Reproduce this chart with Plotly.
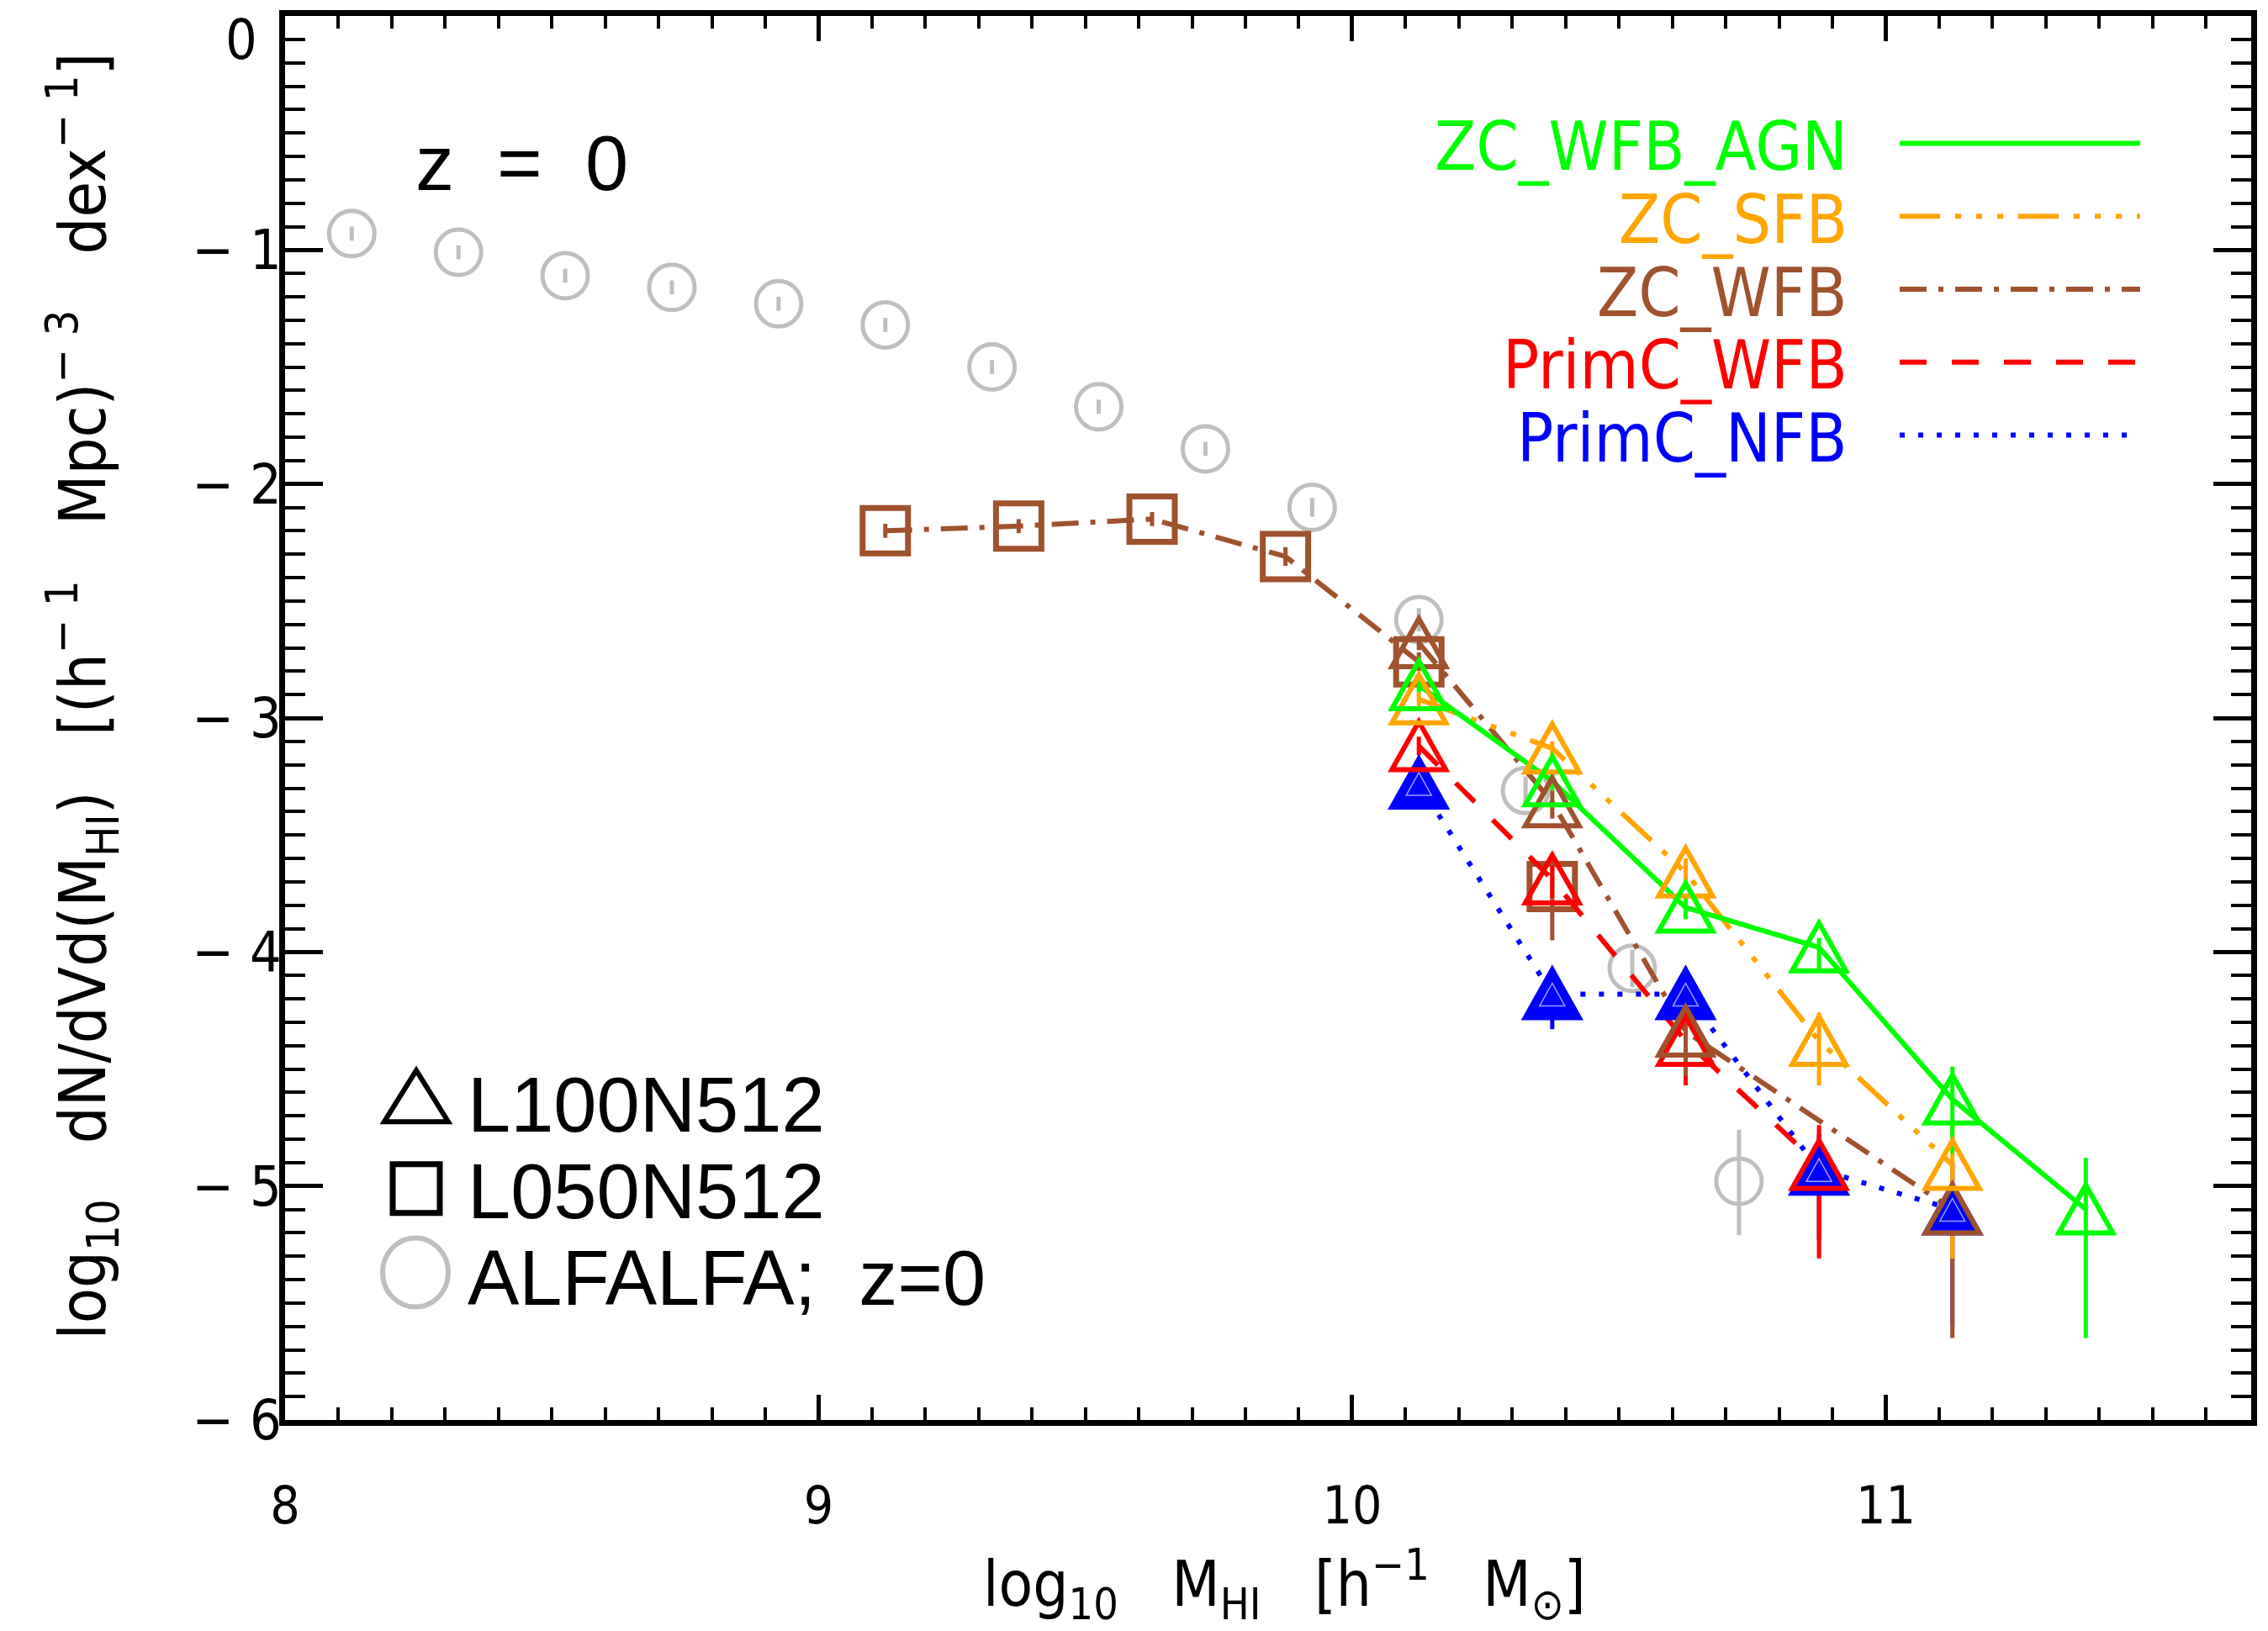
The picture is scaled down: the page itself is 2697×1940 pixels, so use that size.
import plotly.graph_objects as go

# ---------------- data ----------------
alfalfa_x = [8.125, 8.325, 8.525, 8.725, 8.925, 9.125, 9.325, 9.525, 9.725, 9.925, 10.125, 10.325, 10.525, 10.725]
alfalfa_y = [-0.93, -1.01, -1.11, -1.16, -1.23, -1.32, -1.50, -1.67, -1.85, -2.10, -2.58, -3.31, -4.07, -4.98]
alfalfa_up = [0.03, 0.03, 0.03, 0.03, 0.03, 0.03, 0.03, 0.03, 0.03, 0.04, 0.05, 0.06, 0.08, 0.22]
alfalfa_dn = [0.03, 0.03, 0.03, 0.03, 0.03, 0.03, 0.03, 0.03, 0.03, 0.04, 0.05, 0.06, 0.08, 0.23]

sq_x = [9.125, 9.375, 9.625, 9.875, 10.125, 10.375]
sq_y = [-2.20, -2.18, -2.15, -2.31, -2.76, -3.72]
sq_up = [0.03, 0.03, 0.03, 0.04, 0.04, 0.14]
sq_dn = [0.03, 0.03, 0.03, 0.04, 0.04, 0.23]

nfb_x = [10.125, 10.375, 10.625, 10.875, 11.125]
nfb_y = [-3.28, -4.18, -4.18, -4.93, -5.10]
nfb_up = [0.03, 0.06, 0.05, 0.15, 0.20]
nfb_dn = [0.03, 0.15, 0.08, 0.30, 0.50]

pwfb_x = [10.125, 10.375, 10.625, 10.875]
pwfb_y = [-3.12, -3.69, -4.38, -4.91]
pwfb_up = [0.04, 0.06, 0.08, 0.17]
pwfb_dn = [0.04, 0.08, 0.19, 0.40]

zwfb_x = [10.125, 10.375, 10.625, 11.125]
zwfb_y = [-2.68, -3.36, -4.34, -5.10]
zwfb_up = [0.03, 0.05, 0.06, 0.20]
zwfb_dn = [0.03, 0.07, 0.19, 0.55]

sfb_x = [10.125, 10.375, 10.625, 10.875, 11.125]
sfb_y = [-2.92, -3.13, -3.66, -4.38, -4.91]
sfb_up = [0.03, 0.03, 0.06, 0.12, 0.17]
sfb_dn = [0.03, 0.04, 0.07, 0.19, 0.40]

agn_x = [10.125, 10.375, 10.625, 10.875, 11.125, 11.375]
agn_y = [-2.86, -3.27, -3.81, -3.98, -4.63, -5.10]
agn_up = [0.03, 0.04, 0.05, 0.04, 0.14, 0.22]
agn_dn = [0.03, 0.04, 0.05, 0.09, 0.23, 0.55]

x_ticks = [8, 9, 10, 11]
x_labels = ["8", "9", "10", "11"]
y_ticks = [-6, -5, -4, -3, -2, -1]
y_labels = ["\u2212\u00a06", "\u2212\u00a05", "\u2212\u00a04", "\u2212\u00a03", "\u2212\u00a02", "\u2212\u00a01"]

model_names = ["ZC_WFB_AGN", "ZC_SFB", "ZC_WFB", "PrimC_WFB", "PrimC_NFB"]
box_names = ["L100N512", "L050N512", "ALFALFA;\u00a0\u00a0z=0"]

# ---------------- styles ----------------
GREEN, ORANGE, BROWN, RED, BLUE, GRAY = "#00FF00", "#FFA500", "#A0522D", "#FF0000", "#0000FF", "#BEBEBE"
DASH = {
    "solid": "solid",
    "dash3dot": "48px,18px,7px,18px,7px,18px,7px,18px",
    "dashdot": "32px,14px,6px,14px",
    "dash": "32px,30px",
    "dot": "6px,16px",
}
NARROW = "Liberation Sans Narrow, Arial Narrow, DejaVu Sans Condensed, sans-serif"
SANS = "Liberation Sans, Arial, sans-serif"

W, H = 2697, 1940
L, R, T, B = 339, 20, 14, 251
PW, PH = W - L - R, H - T - B


def px(X):
    return (X - L) / PW


def py(Y):
    return (H - B - Y) / PH


TRI = "M -32,-28 L 0,29 L 32,-28 Z"
TRI_IN = "M -15,-14 L 0,13 L 15,-14 Z"
SP = "\u00a0"

fig = go.Figure()
shapes = []
annotations = []

# ALFALFA observations
fig.add_trace(go.Scatter(
    x=alfalfa_x, y=alfalfa_y, mode="markers",
    marker=dict(symbol="circle-open", size=54, color=GRAY, line=dict(width=5, color=GRAY)),
    error_y=dict(type="data", symmetric=False, array=alfalfa_up, arrayminus=alfalfa_dn,
                 color=GRAY, thickness=5, width=0),
    showlegend=False, hoverinfo="skip"))

# L050N512 (squares, ZC_WFB)
fig.add_trace(go.Scatter(
    x=sq_x[:5], y=sq_y[:5], mode="lines",
    line=dict(color=BROWN, width=6, dash=DASH["dashdot"]),
    showlegend=False, hoverinfo="skip"))
fig.add_trace(go.Scatter(
    x=sq_x, y=sq_y, mode="markers",
    marker=dict(symbol="square-open", size=54, color=BROWN, line=dict(width=7, color=BROWN)),
    error_y=dict(type="data", symmetric=False, array=sq_up, arrayminus=sq_dn,
                 color=BROWN, thickness=5, width=0),
    showlegend=False, hoverinfo="skip"))

# L100N512 models (drawn back to front)
models = [
    (nfb_x, nfb_y, nfb_up, nfb_dn, BLUE, DASH["dot"], True),
    (pwfb_x, pwfb_y, pwfb_up, pwfb_dn, RED, DASH["dash"], False),
    (zwfb_x, zwfb_y, zwfb_up, zwfb_dn, BROWN, DASH["dashdot"], False),
    (sfb_x, sfb_y, sfb_up, sfb_dn, ORANGE, DASH["dash3dot"], False),
    (agn_x, agn_y, agn_up, agn_dn, GREEN, DASH["solid"], False),
]
for xs, ys, up, dn, col, dash, filled in models:
    fig.add_trace(go.Scatter(
        x=xs, y=ys, mode="lines",
        line=dict(color=col, width=6, dash=dash),
        error_y=dict(type="data", symmetric=False, array=up, arrayminus=dn,
                     color=col, thickness=5, width=0),
        showlegend=False, hoverinfo="skip"))
    for xv, yv in zip(xs, ys):
        shapes.append(dict(type="path", xref="x", yref="y", xsizemode="pixel", ysizemode="pixel",
                           xanchor=xv, yanchor=yv, path=TRI,
                           line=dict(color=col, width=6),
                           fillcolor=col if filled else "rgba(0,0,0,0)", layer="above"))
        if filled:
            shapes.append(dict(type="path", xref="x", yref="y", xsizemode="pixel", ysizemode="pixel",
                               xanchor=xv, yanchor=yv, path=TRI_IN,
                               line=dict(color="#9fa0ff", width=1.5),
                               fillcolor="rgba(0,0,0,0)", layer="above"))

# ---------------- upper-right legend ----------------
leg_cols = [GREEN, ORANGE, BROWN, RED, BLUE]
leg_dash = [DASH["solid"], DASH["dash3dot"], DASH["dashdot"], DASH["dash"], DASH["dot"]]
leg_rows = [166, 253, 340, 427, 514]
for name, col, dsh, yy in zip(model_names, leg_cols, leg_dash, leg_rows):
    annotations.append(dict(text=name, xref="paper", yref="paper", x=px(2199), y=py(yy + 4),
                            xanchor="right", yanchor="middle", showarrow=False,
                            font=dict(family=NARROW, size=80, color=col)))
    shapes.append(dict(type="line", xref="paper", yref="paper",
                       x0=px(2259), x1=px(2545), y0=py(yy), y1=py(yy),
                       line=dict(color=col, width=6, dash=dsh)))

# ---------------- lower-left legend ----------------
shapes.append(dict(type="path", xref="paper", yref="paper", xsizemode="pixel", ysizemode="pixel",
                   xanchor=px(495), yanchor=py(1303), path="M -38,-30 L 0,31 L 38,-30 Z",
                   line=dict(color="black", width=6)))
shapes.append(dict(type="rect", xref="paper", yref="paper", xsizemode="pixel", ysizemode="pixel",
                   xanchor=px(495), yanchor=py(1413), x0=-28, x1=28, y0=-29, y1=29,
                   line=dict(color="black", width=7)))
shapes.append(dict(type="circle", xref="paper", yref="paper", xsizemode="pixel", ysizemode="pixel",
                   xanchor=px(494), yanchor=py(1513), x0=-39, x1=39, y0=-41, y1=41,
                   line=dict(color=GRAY, width=6)))
for name, yy in zip(box_names, [1307, 1410, 1513]):
    annotations.append(dict(text=name, xref="paper", yref="paper", x=px(554), y=py(yy + 6),
                            xanchor="left", yanchor="middle", showarrow=False,
                            font=dict(family=SANS, size=92, color="black")))

# z = 0 label
annotations.append(dict(text="z" + SP * 2 + "=" + SP * 2 + "0", xref="paper", yref="paper",
                        x=px(492), y=py(190), xanchor="left", yanchor="middle", showarrow=False,
                        font=dict(family=SANS, size=92, color="black")))

# y tick label "0" (kept inside the page)
annotations.append(dict(text="0", xref="paper", yref="paper", x=px(308), y=py(43),
                        xanchor="right", yanchor="middle", showarrow=False,
                        font=dict(family=NARROW, size=66, color="black")))

# axis titles
annotations.append(dict(
    text="log<sub>10</sub>" + SP * 3 + "M<sub>HI</sub>" + SP * 3 + "[h<sup>\u22121</sup>" + SP * 3
         + "M<sub>\u2299</sub>]",
    xref="paper", yref="paper", x=px(1527), y=py(1885), xanchor="center", yanchor="middle",
    showarrow=False, font=dict(family=NARROW, size=74, color="black")))
annotations.append(dict(
    text="log<sub>10</sub>" + SP * 3 + "dN/dVd(M<sub>HI</sub>)" + SP * 3 + "[(h<sup>\u2212" + SP + "1</sup>"
         + SP * 3 + "Mpc)<sup>\u2212" + SP + "3</sup>" + SP * 3 + "dex<sup>\u2212" + SP + "1</sup>]",
    xref="paper", yref="paper", x=px(98), y=py(826), xanchor="center", yanchor="middle",
    textangle=-90, showarrow=False, font=dict(family=NARROW, size=77, color="black")))

axis_common = dict(showgrid=False, zeroline=False, ticks="inside", linecolor="black", linewidth=7,
                   mirror="ticks", tickcolor="black", tickwidth=5, showline=True)

fig.update_layout(
    width=W, height=H,
    margin=dict(l=L, r=R, t=T, b=B),
    paper_bgcolor="white", plot_bgcolor="white",
    showlegend=False,
    xaxis=dict(range=[8, 11.685], tickvals=x_ticks, ticktext=x_labels, ticklen=30, ticklabelstandoff=42,
               tickfont=dict(family=NARROW, size=62, color="black"),
               minor=dict(dtick=0.1, tick0=8, ticks="inside", ticklen=15, tickwidth=4, tickcolor="black"),
               **axis_common),
    yaxis=dict(range=[-6, 0], tickvals=y_ticks, ticktext=y_labels, ticklen=45, ticklabelstandoff=-16,
               tickfont=dict(family=NARROW, size=66, color="black"),
               minor=dict(dtick=0.1, tick0=-6, ticks="inside", ticklen=24, tickwidth=4, tickcolor="black"),
               **axis_common),
    shapes=shapes,
    annotations=annotations,
)

fig.write_html("out.html", config={"displayModeBar": False})
